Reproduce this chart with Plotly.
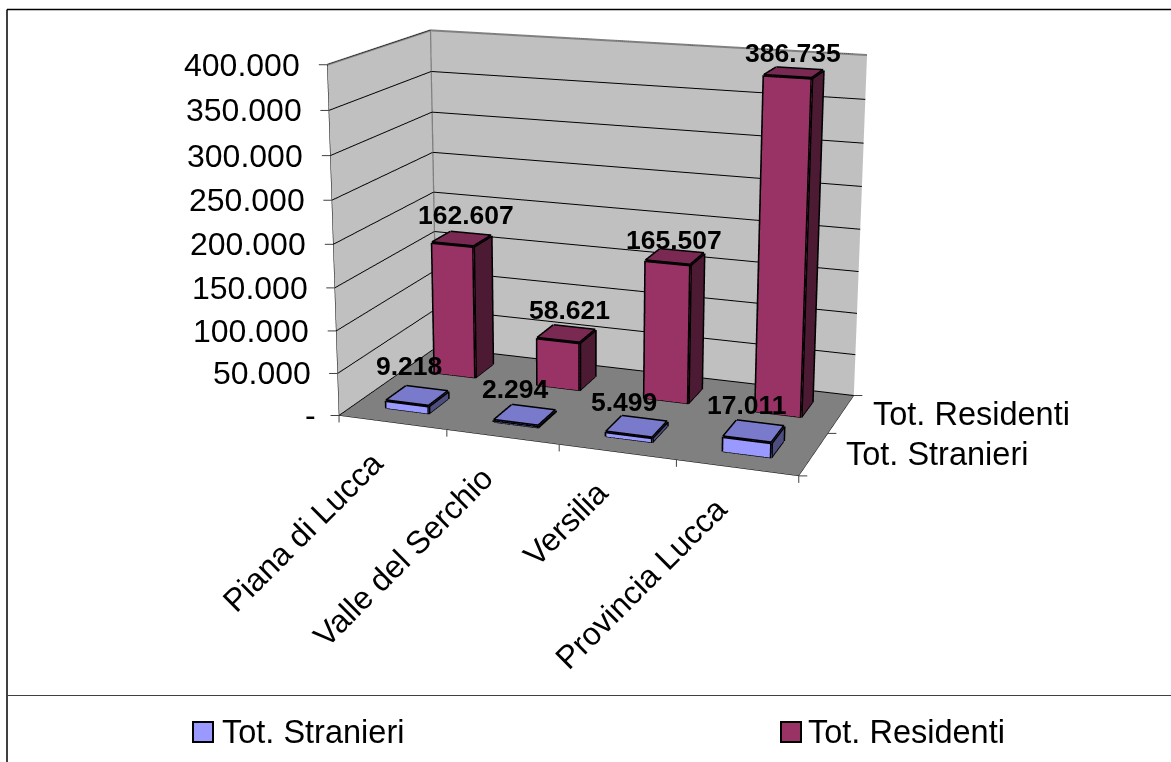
import plotly.graph_objects as go

categories = ["Piana di Lucca", "Valle del Serchio", "Versilia", "Provincia Lucca"]
series_names = ["Tot. Stranieri", "Tot. Residenti"]
stranieri = [9218, 2294, 5499, 17011]
residenti = [162607, 58621, 165507, 386735]
value_ticks = [0, 50000, 100000, 150000, 200000, 250000, 300000, 350000, 400000]
value_tick_text = ["-", "50.000", "100.000", "150.000", "200.000", "250.000", "300.000", "350.000", "400.000"]

# pixel nudges of the data labels (dx, dy up), per series and category
label_nudges = [[(-8, 13), (-10, 9), (-13, 8), (-7, 10)],
                [(4, 7), (3, 7), (-1, 0), (-1, 3)]]

W, H = 1171, 762
FIG_H = 1584
TOP = 552
ZMAX = 400000
BAR_W = 0.4
FONT = "Liberation Sans"

CX = 587.5364
DW = 2*min(CX, W-CX)
DOM_X = [(CX-DW/2)/W, (CX+DW/2)/W]
EYE = dict(x=1.2653, y=-3.5787, z=0.9885)
CENTER = dict(x=-0.0074, y=-0.0607, z=0.0072)
UP = dict(x=-0.0008, y=-0.0020, z=1.0)
ASPECT = dict(x=0.9732, y=0.4893, z=0.7321)


def cuboid(x0, x1, y0, y1, z0, z1, front, top, side):
    vx = [x0, x1, x1, x0, x0, x1, x1, x0]
    vy = [y0, y0, y1, y1, y0, y0, y1, y1]
    vz = [z0, z0, z0, z0, z1, z1, z1, z1]
    quads = [((0, 1, 5), (0, 5, 4), front), ((1, 2, 6), (1, 6, 5), side), ((4, 5, 6), (4, 6, 7), top),
             ((3, 0, 4), (3, 4, 7), side), ((2, 3, 7), (2, 7, 6), side), ((0, 1, 2), (0, 2, 3), side)]
    i, j, k, col = [], [], [], []
    for a, b, c in quads:
        for t in (a, b):
            i.append(t[0]); j.append(t[1]); k.append(t[2]); col.append(c)
    return vx, vy, vz, i, j, k, col


def edges(x0, x1, y0, y1, z0, z1):
    xs, ys, zs = [], [], []
    segs = [((x0, y0, z0), (x1, y0, z0)), ((x1, y0, z0), (x1, y0, z1)), ((x1, y0, z1), (x0, y0, z1)),
            ((x0, y0, z1), (x0, y0, z0)), ((x1, y0, z0), (x1, y1, z0)), ((x1, y1, z0), (x1, y1, z1)),
            ((x1, y1, z1), (x1, y0, z1)), ((x0, y0, z1), (x0, y1, z1)), ((x0, y1, z1), (x1, y1, z1))]
    for a, b in segs:
        xs += [a[0], b[0], None]; ys += [a[1], b[1], None]; zs += [a[2], b[2], None]
    return xs, ys, zs


fig = go.Figure()
styles = [("#9999ff", "#7a7acc", "#4d4d80"), ("#993366", "#7a2952", "#4d1a33")]
for s, vals in enumerate([stranieri, residenti]):
    front, top, side = styles[s]
    for c, v in enumerate(vals):
        x0, x1 = c+0.5-BAR_W/2, c+0.5+BAR_W/2
        y0, y1 = s+0.5-BAR_W/2, s+0.5+BAR_W/2
        vx, vy, vz, i, j, k, col = cuboid(x0, x1, y0, y1, 0, v, front, top, side)
        fig.add_trace(go.Mesh3d(x=vx, y=vy, z=vz, i=i, j=j, k=k, facecolor=col, flatshading=True,
                                lighting=dict(ambient=1, diffuse=0, specular=0, fresnel=0, roughness=1),
                                hoverinfo="skip", showscale=False, name=series_names[s]))
        ex, ey, ez = edges(x0, x1, y0, y1, 0, v)
        fig.add_trace(go.Scatter3d(x=ex, y=ey, z=ez, mode="lines", line=dict(color="black", width=6),
                                   hoverinfo="skip", showlegend=False))

fig.add_trace(go.Scatter3d(x=[0, 0, 4, None, 0, 0], y=[0, 2, 2, None, 2, 2], z=[ZMAX, ZMAX, ZMAX, None, 0, ZMAX],
                           mode="lines", line=dict(color="#808080", width=4), hoverinfo="skip", showlegend=False))


def tick(x, y, z, ax_px, ay_px):
    return dict(x=x, y=y, z=z, text=" ", showarrow=True, arrowhead=0, arrowwidth=1, arrowcolor="#404040",
                ax=ax_px, ay=ay_px, standoff=0, font=dict(size=1))


ann = []
for v, t in zip(value_ticks, value_tick_text):
    zv = min(v, ZMAX*0.9999)
    ann.append(tick(0, 0, zv, -10, 0))
    ann.append(dict(x=0, y=0, z=zv, text=t, showarrow=False, xanchor="right", yanchor="middle",
                    xshift=-21 if v == 0 else -25, font=dict(family=FONT, size=32, color="black")))
for c in range(len(categories)+1):
    ann.append(tick(c, 0, 0, 0, 9))
for s in range(len(series_names)+1):
    ann.append(tick(4, s, 0, 10, 0))
for c, t in enumerate(categories):
    ann.append(dict(x=c+0.5, y=0, z=0, text=t, showarrow=False, textangle=-45, xanchor="right", yanchor="top",
                    yshift=-20, font=dict(family=FONT, size=32, color="black")))
for s, t in enumerate(series_names):
    ann.append(dict(x=4, y=s+0.5, z=0, text=t, showarrow=False, xanchor="left", yanchor="middle", xshift=30,
                    font=dict(family=FONT, size=32.5, color="black")))
for s, vals in enumerate([stranieri, residenti]):
    for c, v in enumerate(vals):
        dx, dy = label_nudges[s][c]
        ann.append(dict(x=c+0.5, y=s+0.5, z=v, text=f"{v:,}".replace(",", "."), showarrow=False, yanchor="bottom",
                        xshift=dx, yshift=dy, font=dict(family=FONT, size=26.5, color="black", weight="bold")))


def ax(**kw):
    d = dict(title="", showspikes=False, zeroline=False, showgrid=False, showticklabels=False,
             showbackground=True, backgroundcolor="#c0c0c0", ticks="")
    d.update(kw)
    return d


scene = dict(
    domain=dict(x=DOM_X, y=[0, 1]),
    xaxis=ax(range=[0, 4], tickvals=[0, 1, 2, 3, 4], showline=True, linecolor="black"),
    yaxis=ax(range=[0, 2], tickvals=[0, 1, 2], showline=True, linecolor="black"),
    zaxis=ax(range=[0, ZMAX], tickvals=value_ticks, showgrid=True, gridcolor="black", gridwidth=2, showline=True,
             linecolor="black", backgroundcolor="#808080"),
    aspectmode="manual", aspectratio=ASPECT,
    camera=dict(eye=EYE, center=CENTER, up=UP, projection=dict(type="perspective")),
    annotations=ann,
    dragmode=False,
)


def px(x):
    return x/W


def py(y):
    return 1-(y+TOP)/FIG_H


shapes = [
    dict(type="line", xref="paper", yref="paper", x0=px(7), x1=1, y0=py(9.5), y1=py(9.5), line=dict(color="black", width=1.5)),
    dict(type="line", xref="paper", yref="paper", x0=px(7), x1=px(7), y0=py(9.5), y1=py(762), line=dict(color="black", width=1.5)),
    dict(type="line", xref="paper", yref="paper", x0=px(7), x1=1, y0=py(695.5), y1=py(695.5), line=dict(color="#404040", width=1.2)),
    dict(type="rect", xref="paper", yref="paper", x0=px(193), x1=px(213), y0=py(722), y1=py(742), fillcolor="#9999ff", line=dict(color="black", width=2)),
    dict(type="rect", xref="paper", yref="paper", x0=px(781), x1=px(801), y0=py(722), y1=py(742), fillcolor="#993366", line=dict(color="black", width=2)),
]
legend_ann = [
    dict(xref="paper", yref="paper", x=px(220), y=py(732), text=series_names[0], showarrow=False, xanchor="left", yanchor="middle",
         font=dict(family=FONT, size=32.5, color="black")),
    dict(xref="paper", yref="paper", x=px(806), y=py(732), text=series_names[1], showarrow=False, xanchor="left", yanchor="middle",
         font=dict(family=FONT, size=32.5, color="black")),
]

fig.update_layout(width=W, height=FIG_H, margin=dict(l=0, r=0, t=0, b=0), paper_bgcolor="white", showlegend=False,
                  scene=scene, shapes=shapes, annotations=legend_ann)
post = ("document.body.style.margin='0';document.body.style.overflow='hidden';"
        "document.documentElement.style.overflow='hidden';"
        "document.getElementById('{plot_id}').style.marginTop='%dpx';" % (-TOP))
fig.write_html("out.html", config=dict(displayModeBar=False), post_script=post)
